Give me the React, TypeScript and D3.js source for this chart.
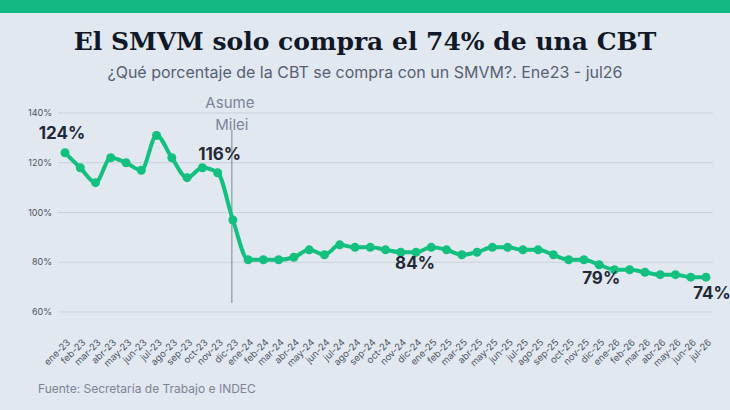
import * as d3 from 'd3';
import React, { useEffect, useRef } from 'react';

const months = [
  'ene-23', 'feb-23', 'mar-23', 'abr-23', 'may-23', 'jun-23', 'jul-23', 'ago-23', 'sep-23', 'oct-23', 'nov-23', 'dic-23',
  'ene-24', 'feb-24', 'mar-24', 'abr-24', 'may-24', 'jun-24', 'jul-24', 'ago-24', 'sep-24', 'oct-24', 'nov-24', 'dic-24',
  'ene-25', 'feb-25', 'mar-25', 'abr-25', 'may-25', 'jun-25', 'jul-25', 'ago-25', 'sep-25', 'oct-25', 'nov-25', 'dic-25',
  'ene-26', 'feb-26', 'mar-26', 'abr-26', 'may-26', 'jun-26', 'jul-26',
];

// % de la CBT que compra un SMVM
const values = [
  124, 118, 112, 122, 120, 117, 131, 122, 114, 118, 116, 97,
  81, 81, 81, 82, 85, 83, 87, 86, 86, 85, 84, 84,
  86, 85, 83, 84, 86, 86, 85, 85, 83, 81, 81, 79,
  77, 77, 76, 75, 75, 74, 74,
];

const yTicks = [60, 80, 100, 120, 140];

const callouts = [
  { month: 'ene-23', text: '124%', dx: -3, dy: -14 },
  { month: 'nov-23', text: '116%', dx: 2, dy: -13 },
  { month: 'dic-24', text: '84%', dx: -1, dy: 17 },
  { month: 'dic-25', text: '79%', dx: 2, dy: 19 },
  { month: 'jul-26', text: '74%', dx: 6, dy: 22 },
];

const W = 730;
const H = 410;
const green = '#13c07f';
const dark = '#1f2937';
const muted = '#7a8599';

function App() {
  const ref = useRef<SVGSVGElement>(null);

  useEffect(() => {
    const svg = d3.select(ref.current);
    svg.selectAll('*').remove();

    const x = d3.scalePoint<string>().domain(months).range([65, 706]);
    const y = d3.scaleLinear().domain([60, 140]).range([312, 113]);

    svg.append('rect').attr('width', W).attr('height', H).attr('fill', '#e2e8f0');
    svg.append('rect').attr('width', W).attr('height', 13).attr('fill', '#12b983');

    svg
      .append('text')
      .attr('x', W / 2)
      .attr('y', 50)
      .attr('text-anchor', 'middle')
      .attr('font-family', '"DejaVu Serif", serif')
      .attr('font-weight', 'bold')
      .attr('font-size', 25)
      .attr('fill', '#111827')
      .text('El SMVM solo compra el 74% de una CBT');

    svg
      .append('text')
      .attr('x', W / 2)
      .attr('y', 78)
      .attr('text-anchor', 'middle')
      .attr('font-family', 'Inter, sans-serif')
      .attr('font-size', 16)
      .attr('fill', '#566074')
      .text('¿Qué porcentaje de la CBT se compra con un SMVM?. Ene23 - jul26');

    // grid + y labels
    const grid = svg.append('g');
    grid
      .selectAll('line')
      .data(yTicks)
      .join('line')
      .attr('x1', 58)
      .attr('x2', 713)
      .attr('y1', (d) => y(d))
      .attr('y2', (d) => y(d))
      .attr('stroke', '#c9d1dc')
      .attr('stroke-width', 1);
    grid
      .selectAll('text')
      .data(yTicks)
      .join('text')
      .attr('x', 52)
      .attr('y', (d) => y(d) + 3)
      .attr('text-anchor', 'end')
      .attr('font-family', 'Inter, sans-serif')
      .attr('font-size', 9)
      .attr('fill', '#4b5563')
      .text((d) => d + '%');

    // x labels
    svg
      .append('g')
      .selectAll('text')
      .data(months)
      .join('text')
      .attr('transform', (d) => `translate(${(x(d) as number) + 6},343) rotate(-45)`)
      .attr('text-anchor', 'end')
      .attr('font-family', 'Inter, sans-serif')
      .attr('font-size', 9.5)
      .attr('fill', '#4b5563')
      .text((d) => d);

    // Milei marker
    const mx = (x('dic-23') as number) - 1;
    svg
      .append('line')
      .attr('x1', mx)
      .attr('x2', mx)
      .attr('y1', 130)
      .attr('y2', 303)
      .attr('stroke', muted)
      .attr('stroke-width', 1);
    svg
      .append('text')
      .attr('x', mx - 2)
      .attr('y', 108)
      .attr('text-anchor', 'middle')
      .attr('font-family', 'Inter, sans-serif')
      .attr('font-size', 15)
      .attr('fill', muted)
      .text('Asume');
    svg
      .append('text')
      .attr('x', mx)
      .attr('y', 130)
      .attr('text-anchor', 'middle')
      .attr('font-family', 'Inter, sans-serif')
      .attr('font-size', 15)
      .attr('fill', muted)
      .text('Milei');

    const pts = months.map((m, i) => [x(m) as number, y(values[i])] as [number, number]);
    const line = d3.line<[number, number]>().curve(d3.curveMonotoneX);
    svg
      .append('path')
      .attr('d', line(pts))
      .attr('fill', 'none')
      .attr('stroke', green)
      .attr('stroke-width', 4)
      .attr('stroke-linejoin', 'round');
    svg
      .append('g')
      .selectAll('circle')
      .data(pts)
      .join('circle')
      .attr('cx', (d) => d[0])
      .attr('cy', (d) => d[1])
      .attr('r', 4.5)
      .attr('fill', green);

    svg
      .append('g')
      .selectAll('text')
      .data(callouts)
      .join('text')
      .attr('x', (d) => (x(d.month) as number) + d.dx)
      .attr('y', (d) => y(values[months.indexOf(d.month)]) + d.dy)
      .attr('text-anchor', 'middle')
      .attr('font-family', 'Inter, sans-serif')
      .attr('font-weight', 'bold')
      .attr('font-size', 17)
      .attr('fill', dark)
      .text((d) => d.text);

    svg
      .append('text')
      .attr('x', 38)
      .attr('y', 393)
      .attr('font-family', 'Inter, sans-serif')
      .attr('font-size', 12)
      .attr('fill', muted)
      .text('Fuente: Secretaría de Trabajo e INDEC');
  }, []);

  return (
    <svg
      ref={ref}
      width={W}
      height={H}
      style={{ position: 'absolute', left: 0, top: 0 }}
    />
  );
}

export default App;
